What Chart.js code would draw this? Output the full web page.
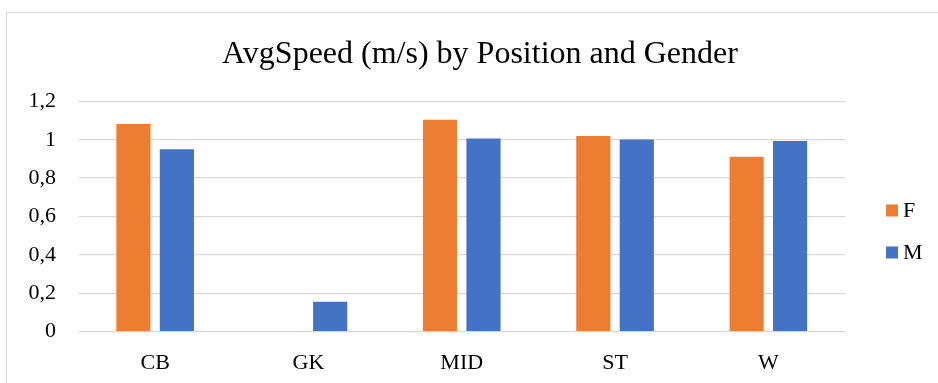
<!DOCTYPE html>
<html>
<head>
<meta charset="utf-8">
<script src="https://cdn.jsdelivr.net/npm/chart.js@4/dist/chart.umd.min.js"></script>
<style>
  html, body { margin: 0; padding: 0; background: #fff; overflow: hidden; width: 938px; height: 383px; }
  #frame { position: absolute; left: 6px; top: 12px; width: 948px; height: 390px; border: 1px solid #d9d9d9; box-sizing: border-box; }
  #wrap { position: absolute; left: 6px; top: 12px; width: 948px; height: 382px; }
</style>
</head>
<body>
<div id="frame"></div>
<div id="wrap"><canvas id="chart"></canvas></div>
<script>
// Average speed per playing position, split by gender
const positions = ['CB', 'GK', 'MID', 'ST', 'W'];
const femaleSpeed = [1.082, null, 1.104, 1.020, 0.912];
const maleSpeed = [0.951, 0.156, 1.006, 1.001, 0.994];
const yTicks = [0, 0.2, 0.4, 0.6, 0.8, 1.0, 1.2];

const serif = "'Liberation Serif', 'Times New Roman', serif";
const LEGEND_WIDTH = 109;

// Legend drawn in the space reserved to the right of the plot:
// small square swatch followed by the series name
const sideLegend = {
  id: 'sideLegend',
  afterDraw(chart) {
    const { ctx, chartArea } = chart;
    const x = chartArea.right + 41;
    const midY = (chartArea.top + chartArea.bottom) / 2 + 15;
    const step = 42;
    const sets = chart.data.datasets;
    ctx.save();
    ctx.font = '22px ' + serif;
    ctx.textBaseline = 'middle';
    ctx.textAlign = 'left';
    sets.forEach((ds, i) => {
      const cy = midY + (i - (sets.length - 1) / 2) * step;
      ctx.fillStyle = ds.backgroundColor;
      ctx.fillRect(x, cy - 6, 12, 12);
      ctx.fillStyle = '#000';
      ctx.fillText(ds.label, x + 17, cy + 1);
    });
    ctx.restore();
  }
};

const canvas = document.getElementById('chart');
canvas.width = 948;
canvas.height = 382;

new Chart(canvas, {
  type: 'bar',
  data: {
    labels: positions,
    datasets: [
      { label: 'F', data: femaleSpeed, backgroundColor: '#ED7D31' },
      { label: 'M', data: maleSpeed, backgroundColor: '#4472C4' }
    ]
  },
  options: {
    responsive: false,
    animation: false,
    devicePixelRatio: 1,
    categoryPercentage: 0.567,
    barPercentage: 0.786,
    layout: { padding: { left: 0, right: 0, top: 0, bottom: 0 } },
    plugins: {
      title: {
        display: true,
        text: 'AvgSpeed (m/s) by Position and Gender',
        color: '#000',
        font: { family: serif, size: 32, weight: 'normal' },
        padding: { top: 23, bottom: 28 }
      },
      legend: { display: false },
      tooltip: { enabled: false }
    },
    scales: {
      x: {
        grid: { display: false, drawTicks: false },
        border: { display: false },
        ticks: { color: '#000', font: { family: serif, size: 22 }, padding: 18 }
      },
      y: {
        min: 0,
        max: 1.2,
        afterBuildTicks: (axis) => { axis.ticks = yTicks.map(v => ({ value: v })); },
        grid: { color: '#d9d9d9', lineWidth: 1.3, drawTicks: false },
        border: { display: false },
        ticks: {
          color: '#000',
          font: { family: serif, size: 22 },
          padding: 22.5,
          callback: (v) => String(Math.round(v * 10) / 10).replace('.', ',')
        }
      },
      // empty right-hand axis that only reserves room for the legend
      legendSpace: {
        type: 'linear',
        position: 'right',
        display: true,
        grid: { display: false, drawTicks: false },
        border: { display: false },
        ticks: { display: false },
        afterFit: (axis) => { axis.width = LEGEND_WIDTH; }
      }
    }
  },
  plugins: [sideLegend]
});
</script>
</body>
</html>
